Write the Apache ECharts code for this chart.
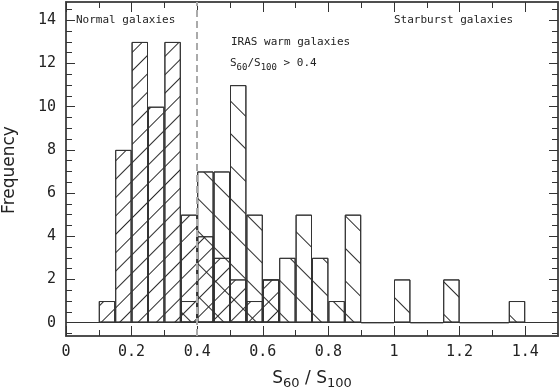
<!DOCTYPE html>
<html>
<head>
<meta charset="utf-8">
<script src="https://cdn.jsdelivr.net/npm/echarts@6/dist/echarts.min.js"></script>
<style>
  html, body { margin: 0; padding: 0; background: #fff; }
  #chart { width: 559px; height: 389px; }
</style>
</head>
<body>
<div id="chart"></div>
<script>
// histogram bins are 0.05 wide, values are the left edge of each bin
const binWidth = 0.05;
const normalEdges = [0.10, 0.15, 0.20, 0.25, 0.30, 0.35, 0.40, 0.45, 0.50, 0.55, 0.60];
const normalCounts = [1, 8, 13, 10, 13, 5, 4, 3, 2, 1, 2];
const warmEdges = [0.35, 0.40, 0.45, 0.50, 0.55, 0.60, 0.65, 0.70, 0.75, 0.80, 0.85,
                   0.90, 0.95, 1.00, 1.05, 1.10, 1.15, 1.20, 1.25, 1.30, 1.35];
const warmCounts = [1, 7, 7, 11, 5, 2, 3, 5, 3, 1, 5, 0, 0, 2, 0, 0, 2, 0, 0, 0, 1];

const xMajorTicks = [0, 0.2, 0.4, 0.6, 0.8, 1.0, 1.2, 1.4];
const xMinorTicks = [0.1, 0.3, 0.5, 0.7, 0.9, 1.1, 1.3];
const yMajorTicks = [0, 2, 4, 6, 8, 10, 12, 14];
const yMinorTicks = [-0.5, 0.5, 1, 1.5, 2.5, 3, 3.5, 4.5, 5, 5.5, 6.5, 7, 7.5, 8.5, 9, 9.5,
                     10.5, 11, 11.5, 12.5, 13, 13.5, 14.5];
const cutValue = 0.4;

const toBars = (edges, counts) => edges.map((e, i) => [e + binWidth / 2, counts[i]]);

const FRAME = '#444';
const INK = '#333';
const MONO = '"DejaVu Sans Mono", monospace';

const chart = echarts.init(document.getElementById('chart'), null, { renderer: 'canvas' });

const gridBox = { left: 66, top: 2, width: 492, height: 334 };
const xRange = { min: 0, max: 1.5 };
const yRange = { min: -0.62, max: 14.85 };

function xAxisDef(gridIndex, position, ticks, len, labels) {
  return {
    type: 'value', gridIndex, position, ...xRange,
    axisLine: { show: true, onZero: false, lineStyle: { color: FRAME, width: 1.5 } },
    axisTick: { show: true, inside: true, length: len, customValues: ticks, lineStyle: { color: INK, width: 1 } },
    axisLabel: labels
      ? { show: true, customValues: ticks, margin: 9, color: '#222', fontFamily: MONO, fontSize: 15 }
      : { show: false },
    splitLine: { show: false }
  };
}

function yAxisDef(gridIndex, position, ticks, len, labels) {
  return {
    type: 'value', gridIndex, position, ...yRange,
    axisLine: { show: true, onZero: false, lineStyle: { color: FRAME, width: 1.5 } },
    axisTick: { show: true, inside: true, length: len, customValues: ticks, lineStyle: { color: INK, width: 1 } },
    axisLabel: labels
      ? { show: true, customValues: ticks, margin: 10, color: '#222', fontFamily: MONO, fontSize: 15 }
      : { show: false },
    splitLine: { show: false }
  };
}

const hatch = (rotation, gap) => ({
  symbol: 'rect',
  symbolSize: 1,
  color: '#2a2a2a',
  backgroundColor: 'transparent',
  dashArrayX: [1, 0],
  dashArrayY: [1, gap],
  rotation
});

const option = {
  animation: false,
  backgroundColor: '#fff',
  grid: [
    { ...gridBox, show: false },
    { ...gridBox, show: false }
  ],
  xAxis: [
    xAxisDef(0, 'bottom', xMajorTicks, 10, true),
    xAxisDef(0, 'top', xMajorTicks, 10, false),
    xAxisDef(1, 'bottom', xMinorTicks, 6, false),
    xAxisDef(1, 'top', xMinorTicks, 6, false)
  ],
  yAxis: [
    yAxisDef(0, 'left', yMajorTicks, 9, true),
    yAxisDef(0, 'right', yMajorTicks, 9, false),
    yAxisDef(1, 'left', yMinorTicks, 6, false),
    yAxisDef(1, 'right', yMinorTicks, 6, false)
  ],
  series: [
    {
      name: 'Normal galaxies',
      type: 'bar',
      xAxisIndex: 0, yAxisIndex: 0,
      data: toBars(normalEdges, normalCounts),
      barWidth: 16.4,
      barGap: '-100%',
      itemStyle: {
        color: 'transparent',
        borderColor: INK,
        borderWidth: 1,
        decal: hatch(-Math.PI / 4, 12)
      },
      markLine: {
        silent: true,
        symbol: 'none',
        label: { show: false },
        data: [
          { yAxis: 0, lineStyle: { color: INK, width: 1, type: 'solid' } },
          { xAxis: cutValue, lineStyle: { color: '#aaa', width: 2, type: [7, 4] } }
        ]
      }
    },
    {
      name: 'IRAS warm galaxies',
      type: 'bar',
      xAxisIndex: 0, yAxisIndex: 0,
      data: toBars(warmEdges, warmCounts),
      barWidth: 16.4,
      barGap: '-100%',
      itemStyle: {
        color: 'transparent',
        borderColor: INK,
        borderWidth: 1,
        decal: hatch(Math.PI / 4, 22)
      }
    }
  ],
  graphic: [
    {
      type: 'text', left: 76, top: 15,
      style: { text: 'Normal galaxies', font: '11px ' + MONO, fill: '#222' }
    },
    {
      type: 'text', left: 394, top: 15,
      style: { text: 'Starburst galaxies', font: '11px ' + MONO, fill: '#222' }
    },
    {
      type: 'text', left: 231, top: 37,
      style: { text: 'IRAS warm galaxies', font: '11px ' + MONO, fill: '#222' }
    },
    {
      type: 'text', left: 230, top: 58,
      style: {
        text: '{m|S}{s|60}{m|/S}{s|100}{m| > 0.4}',
        fill: '#222',
        rich: {
          m: { fontFamily: MONO, fontSize: 11, lineHeight: 14, verticalAlign: 'top', fill: '#222' },
          s: { fontFamily: MONO, fontSize: 9, lineHeight: 9, verticalAlign: 'bottom', fill: '#222' }
        }
      }
    },
    {
      type: 'text', x: 10, y: 170, rotation: Math.PI / 2,
      style: {
        text: 'Frequency', font: '17px "DejaVu Sans", sans-serif', fill: '#222',
        align: 'center', verticalAlign: 'middle'
      }
    },
    {
      type: 'text', x: 312, y: 380,
      style: {
        text: '{m|S}{s|60}{m| / S}{s|100}',
        align: 'center', verticalAlign: 'middle',
        rich: {
          m: { fontFamily: '"DejaVu Sans", sans-serif', fontSize: 17, lineHeight: 20, verticalAlign: 'top', fill: '#222' },
          s: { fontFamily: '"DejaVu Sans", sans-serif', fontSize: 13, lineHeight: 13, verticalAlign: 'bottom', fill: '#222' }
        }
      }
    }
  ]
};

chart.setOption(option);
</script>
</body>
</html>
